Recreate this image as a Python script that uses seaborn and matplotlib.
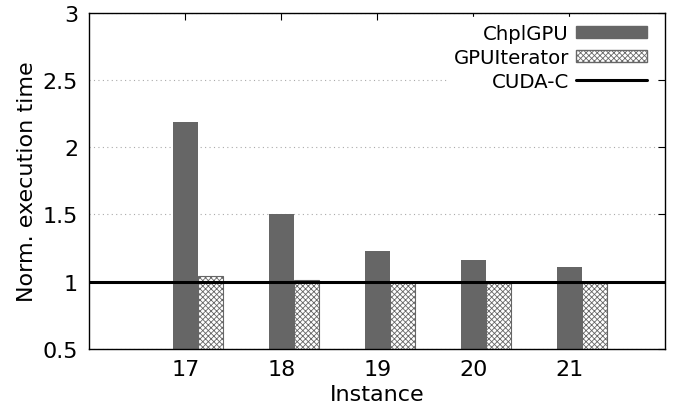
import numpy as np
import pandas as pd
import matplotlib
matplotlib.use("Agg")
import matplotlib.pyplot as plt
import seaborn as sns
from matplotlib.patches import Patch
from matplotlib.lines import Line2D

instances = ["17", "18", "19", "20", "21"]
chplgpu = [2.19, 1.50, 1.23, 1.16, 1.11]
gpuiterator = [1.04, 1.01, 1.00, 1.00, 0.99]
cuda_c = 1.0

sns.set_theme(style="white")
plt.rcParams["font.family"] = ["DejaVu Sans"]
plt.rcParams["text.color"] = "black"
plt.rcParams["axes.labelcolor"] = "black"
plt.rcParams["hatch.linewidth"] = 0.6
plt.rcParams["hatch.color"] = "#555555"

df = pd.DataFrame({
    "Instance": instances * 2,
    "time": chplgpu + gpuiterator,
    "impl": ["ChplGPU"] * 5 + ["GPUIterator"] * 5,
})

fig, ax = plt.subplots(figsize=(6.81, 4.10), dpi=100)
sns.barplot(data=df, x="Instance", y="time", hue="impl", order=instances,
            palette=["#666666", "white"], width=0.52, gap=0, ax=ax,
            legend=False, saturation=1)

# style the second series as crosshatched bars
for p in ax.containers[0]:
    p.set_edgecolor("#666666")
    p.set_linewidth(0)
for p in ax.containers[1]:
    p.set_facecolor("white")
    p.set_edgecolor("#666666")
    p.set_hatch("xxxxxx")
    p.set_linewidth(0.8)

ax.axhline(cuda_c, color="black", lw=2.2, zorder=5)

# ticks sit on the ChplGPU bar centres (gnuplot clustered style)
pos = np.arange(len(instances)) - 0.13
ax.set_xticks(pos)
ax.set_xticklabels(instances)
ax.set_xlim(pos[0] - 1.0, pos[-1] + 1.0)
ax.set_ylim(0.5, 3)
ax.set_yticks([0.5, 1, 1.5, 2, 2.5, 3])
ax.set_yticklabels(["0.5", "1", "1.5", "2", "2.5", "3"])
ax.yaxis.grid(True, color="#aaaaaa", linestyle=(0, (1, 3)), lw=0.8)
ax.set_axisbelow(True)

ax.tick_params(axis="both", direction="in", length=5, width=0.8,
               labelsize=16, top=True, right=True, colors="black")
ax.tick_params(axis="x", pad=7)
ax.tick_params(axis="y", pad=8)
for s in ax.spines.values():
    s.set_color("black")
    s.set_linewidth(1.0)
    s.set_zorder(20)

ax.set_xlabel("Instance", fontsize=16, labelpad=4)
ax.set_ylabel("Norm. execution time", fontsize=16, labelpad=4)

handles = [
    Patch(facecolor="#666666", edgecolor="#666666", label="ChplGPU"),
    Patch(facecolor="white", edgecolor="#666666", hatch="xxxxxx", label="GPUIterator"),
    Line2D([0], [0], color="black", lw=2.2, label="CUDA-C"),
]
leg = ax.legend(handles=handles, loc="upper right", markerfirst=False,
                fontsize=14.2, frameon=True, framealpha=1, edgecolor="white",
                handlelength=3.6, handleheight=0.55, labelspacing=0.25,
                borderaxespad=0.15, borderpad=0.35, handletextpad=0.35,
                alignment="right", bbox_to_anchor=(0.985, 0.995))
for t in leg.get_texts():
    t.set_ha("right")
    t.set_color("black")
leg.set_zorder(10)

fig.subplots_adjust(left=0.131, right=0.977, top=0.967, bottom=0.146)
fig.savefig("out.png", dpi=100)
